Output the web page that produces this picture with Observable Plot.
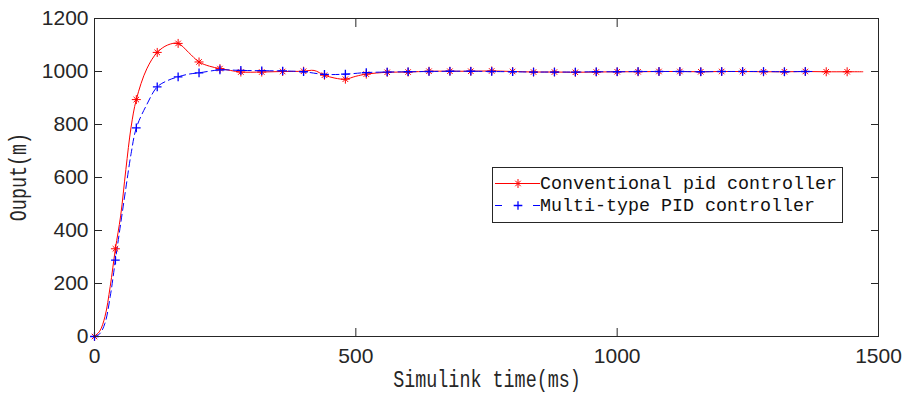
<!DOCTYPE html>
<html>
<head>
<meta charset="utf-8">
<script src="https://cdn.jsdelivr.net/npm/d3@7"></script>
<script src="https://cdn.jsdelivr.net/npm/@observablehq/plot@0.6"></script>
<style>
  body { margin: 0; background: #fff; }
  #wrap { position: relative; width: 906px; height: 401px; overflow: hidden; }
  .mono { position: absolute; font-family: "Liberation Mono", monospace; font-size: 23px; color: #262626; white-space: nowrap; line-height: 1; }
  #legend { position: absolute; left: 492px; top: 167px; width: 351px; height: 56px; border: 1px solid #262626; background: #fff; box-sizing: border-box; }
  #legend svg { position: absolute; left: 0; top: 0; }
  #legend .row { position: absolute; left: 47px; font-family: "Liberation Mono", monospace; font-size: 19px; color: #111; white-space: nowrap; line-height: 1; transform-origin: 0 50%; transform: translateY(-50%) scaleX(0.965); }
</style>
</head>
<body>
<div id="wrap"></div>
<script>
// ---- data ----
const seriesNames = ["Conventional pid controller", "Multi-type PID controller"];
const xLabel = "Simulink time(ms)";
const yLabel = "Ouput(m)";
const xTicks = [0, 500, 1000, 1500];
const yTicks = [0, 200, 400, 600, 800, 1000, 1200];

const conventionalTime = [0, 10, 20, 30, 40, 50, 60, 70, 80, 100, 120, 140, 160, 180, 200, 220, 240, 260, 280, 320, 360, 400, 420, 440, 460, 480, 500, 520, 560, 600, 640, 680, 720, 760, 800, 840, 880, 920, 960, 1000, 1040, 1080, 1120, 1160, 1200, 1240, 1280, 1320, 1360, 1400, 1440, 1470];
const conventionalOutput = [0, 20, 75, 188, 331, 455, 630, 790, 894, 1010, 1072, 1100, 1106, 1072, 1036, 1020, 1011, 1004, 998, 998, 1000, 1001, 1004, 986, 975, 971, 982, 990, 997, 998, 1001, 1001, 1001, 1002, 1000, 998, 998, 997, 998, 999, 999, 1000, 1000, 999, 1000, 1000, 999, 999, 1000, 999, 999, 999];

const multiTime = [0, 10, 20, 30, 40, 50, 60, 70, 80, 100, 120, 140, 160, 180, 200, 240, 280, 320, 360, 400, 440, 480, 520, 560, 600, 640, 680, 720, 760, 800, 840, 880, 920, 960, 1000, 1040, 1080, 1120, 1160, 1200, 1240, 1280, 1320, 1360, 1380];
const multiOutput = [0, 10, 50, 150, 288, 425, 560, 690, 787, 875, 942, 966, 980, 990, 995, 1006, 1004, 1003, 1002, 999, 989, 990, 996, 998, 999, 1000, 1001, 1001, 1000, 999, 998, 998, 998, 999, 999, 1000, 1000, 1000, 999, 1000, 1000, 1000, 999, 1000, 1000];

const markerStep = 40;

// ---- build rows ----
const conv = conventionalTime.map((t, i) => ({t, v: conventionalOutput[i]}));
const multi = multiTime.map((t, i) => ({t, v: multiOutput[i]}));
const convMarks = conv.filter(d => d.t % markerStep === 0);
const multiMarks = multi.filter(d => d.t % markerStep === 0);

const RED = "#ff0000", BLUE = "#0000ff", INK = "#262626";
const fmt = d3.format("d");

const plot = Plot.plot({
  width: 906,
  height: 401,
  marginLeft: 94,
  marginRight: 28,
  marginTop: 18,
  marginBottom: 65,
  x: {domain: [0, 1500]},
  y: {domain: [0, 1200]},
  style: {fontFamily: "Liberation Sans, Arial, sans-serif", fontSize: "21px", color: INK, background: "#fff", overflow: "visible"},
  marks: [
    Plot.axisX({ticks: xTicks, tickSize: -8, tickPadding: 20, label: null, tickFormat: fmt}),
    Plot.axisX({anchor: "top", ticks: xTicks, tickSize: -8, label: null, tickFormat: () => ""}),
    Plot.axisY({ticks: yTicks, tickSize: -8, tickPadding: 14, label: null, tickFormat: fmt}),
    Plot.axisY({anchor: "right", ticks: yTicks, tickSize: -8, label: null, tickFormat: () => ""}),
    Plot.line(conv, {x: "t", y: "v", stroke: RED, strokeWidth: 1, curve: "catmull-rom"}),
    Plot.line(multi, {x: "t", y: "v", stroke: BLUE, strokeWidth: 1, strokeDasharray: "7,4", curve: "catmull-rom"}),
    Plot.dot(convMarks, {x: "t", y: "v", symbol: "plus", r: 3, stroke: RED, strokeWidth: 1}),
    Plot.dot(convMarks, {x: "t", y: "v", symbol: "times", r: 2.6, stroke: RED, strokeWidth: 1}),
    Plot.dot(multiMarks, {x: "t", y: "v", symbol: "plus", r: 2.9, stroke: BLUE, strokeWidth: 1.3}),
    Plot.frame({stroke: INK, strokeWidth: 1})
  ]
});

const wrap = document.getElementById("wrap");
wrap.appendChild(plot);

// axis labels
const xl = document.createElement("div");
xl.className = "mono";
xl.textContent = xLabel;
xl.style.left = "487px"; xl.style.top = "381px";
xl.style.transform = "translate(-50%,-50%) scaleX(0.8)";
wrap.appendChild(xl);

const yl = document.createElement("div");
yl.className = "mono";
yl.textContent = yLabel;
yl.style.left = "20px"; yl.style.top = "177px";
yl.style.transform = "translate(-50%,-50%) rotate(-90deg) scaleX(0.8)";
wrap.appendChild(yl);

// legend
const lg = document.createElement("div");
lg.id = "legend";
wrap.appendChild(lg);
const svg = d3.select(lg).append("svg").attr("width", 350).attr("height", 55);
const rowsY = [15.5, 37.5];
const area = r => r * r * Math.PI;
// red row
svg.append("line").attr("x1", 2).attr("x2", 47).attr("y1", rowsY[0]).attr("y2", rowsY[0]).attr("stroke", RED);
const star = svg.append("g").attr("transform", `translate(25,${rowsY[0]})`).attr("stroke", RED).attr("fill", "none");
star.append("path").attr("d", d3.symbol(d3.symbolPlus, area(3))());
star.append("path").attr("d", d3.symbol(d3.symbolTimes, area(2.6))());
// blue row
svg.append("line").attr("x1", 2).attr("x2", 9).attr("y1", rowsY[1]).attr("y2", rowsY[1]).attr("stroke", BLUE);
svg.append("line").attr("x1", 40).attr("x2", 47).attr("y1", rowsY[1]).attr("y2", rowsY[1]).attr("stroke", BLUE);
svg.append("g").attr("transform", `translate(25,${rowsY[1]})`).attr("stroke", BLUE).attr("fill", "none")
  .append("path").attr("d", d3.symbol(d3.symbolPlus, area(2.9))()).attr("stroke-width", 1.3);
seriesNames.forEach((name, i) => {
  const r = document.createElement("div");
  r.className = "row";
  r.textContent = name;
  r.style.top = rowsY[i] + "px";
  lg.appendChild(r);
});
</script>
</body>
</html>
